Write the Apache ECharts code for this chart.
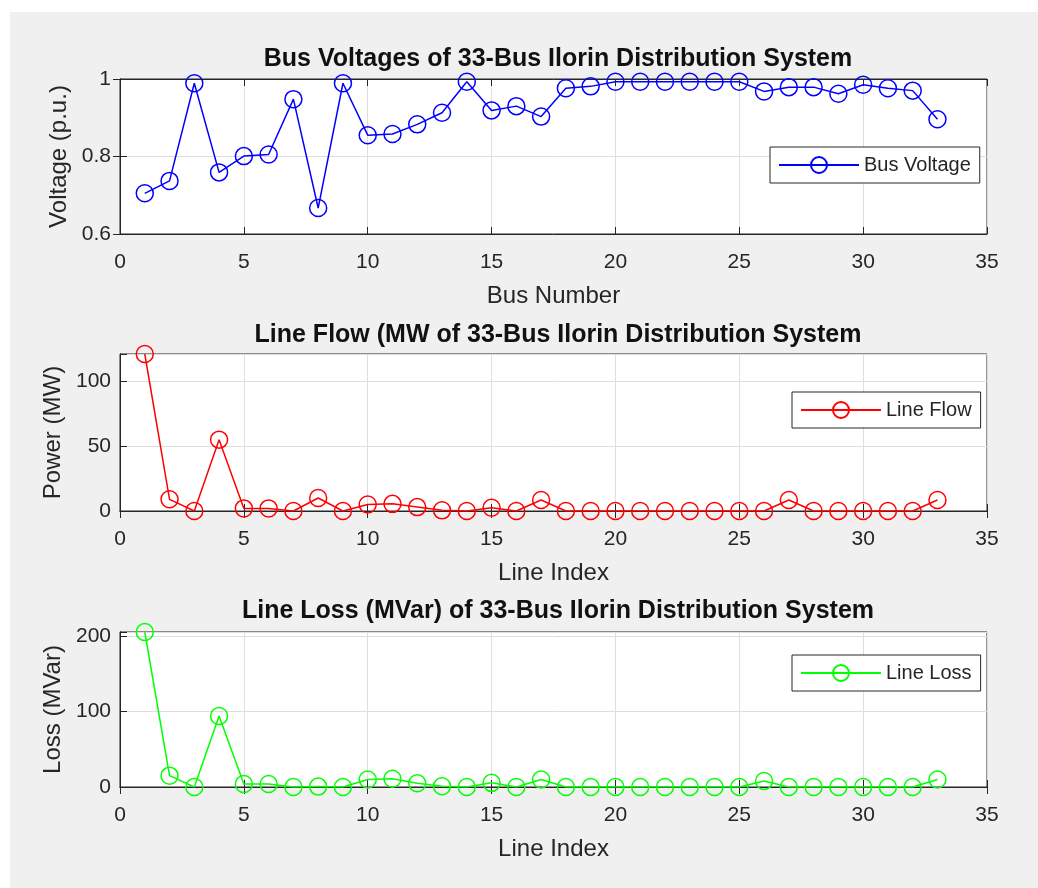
<!DOCTYPE html>
<html>
<head>
<meta charset="utf-8">
<script src="https://cdn.jsdelivr.net/npm/echarts@6/dist/echarts.min.js"></script>
<style>
  html, body { margin: 0; padding: 0; background: #ffffff; }
  #bg { position: absolute; left: 10px; top: 12px; width: 1028px; height: 876px; background: #f0f0f0; }
  #chart { position: absolute; left: 0; top: 0; width: 1038px; height: 888px; }
</style>
</head>
<body>
<div id="bg"></div>
<div id="chart"></div>
<script>
// ---- data ----
const busNumbers = [1,2,3,4,5,6,7,8,9,10,11,12,13,14,15,16,17,18,19,20,21,22,23,24,25,26,27,28,29,30,31,32,33];
const lineIndex = [1,2,3,4,5,6,7,8,9,10,11,12,13,14,15,16,17,18,19,20,21,22,23,24,25,26,27,28,29,30,31,32,33];
const busVoltage = [0.705,0.737,0.989,0.759,0.801,0.805,0.948,0.667,0.989,0.855,0.858,0.883,0.913,0.993,0.919,0.930,0.903,0.976,0.981,0.993,0.993,0.993,0.993,0.993,0.993,0.968,0.979,0.979,0.962,0.985,0.976,0.970,0.896];
const lineFlow = [121,9,0,55,2,2,0,10,0,5,5.5,3,0.5,0,2.5,0,8.5,0,0,0,0,0,0,0,0,0,8.5,0,0,0,0,0,8.5];
const lineLoss = [205,15,0,94,4,4,0,0.5,0,10,11,5,1,0,5.5,0,10,0,0,0,0,0,0,0,0,8,0,0,0,0,0,0,10];
const xTicks = [0,5,10,15,20,25,30,35];
const voltageTicks = [0.6,0.8,1];
const flowTicks = [0,50,100];
const lossTicks = [0,100,200];

const titles = ['Bus Voltages of 33-Bus Ilorin Distribution System','Line Flow (MW of 33-Bus Ilorin Distribution System','Line Loss (MVar) of 33-Bus Ilorin Distribution System'];
const xNames = ['Bus Number','Line Index','Line Index'];
const yNames = ['Voltage (p.u.)','Power (MW)','Loss (MVar)'];
const seriesNames = ['Bus Voltage','Line Flow','Line Loss'];

// ---- layout / style ----
const FONT = "'Liberation Sans', Arial, Helvetica, sans-serif";
const AX = '#262626';
const GRIDC = '#dedede';
const grids = [
  {left:120, right:51, top:79, height:155},
  {left:120, right:51, top:354, height:157},
  {left:120, right:51, top:632, height:155}
];
const titleTops = [42, 318, 594];
const legendTops = [147, 392, 655];
const legendLefts = [770, 792, 792];
const colors = ['#0000ff','#ff0000','#00ff00'];

const pairs = (xs, ys) => xs.map((x,i) => [x, ys[i]]);
const seriesData = [pairs(busNumbers, busVoltage), pairs(lineIndex, lineFlow), pairs(lineIndex, lineLoss)];
const yTickSets = [voltageTicks, flowTicks, lossTicks];
const yMins = [voltageTicks[0], flowTicks[0], lossTicks[0]];
const yMaxs = [voltageTicks[voltageTicks.length-1], 'dataMax', 'dataMax'];
const yIntervals = [voltageTicks[1]-voltageTicks[0], flowTicks[1]-flowTicks[0], lossTicks[1]-lossTicks[0]];

const xAxes = [], yAxes = [], series = [], titleArr = [], legends = [];
for (let i = 0; i < 3; i++) {
  const ticks = yTickSets[i];
  xAxes.push({
    type:'value', gridIndex:i, min:xTicks[0], max:xTicks[xTicks.length-1], interval:xTicks[1]-xTicks[0],
    position:'bottom',
    name:xNames[i], nameLocation:'middle', nameGap:50,
    nameTextStyle:{fontFamily:FONT, fontSize:24, color:AX},
    axisLine:{show:true, lineStyle:{color:AX, width:1}},
    axisTick:{show:true, inside:true, length:7, lineStyle:{color:AX}},
    axisLabel:{show:true, margin:18, fontFamily:FONT, fontSize:21, color:AX},
    splitLine:{show:true, lineStyle:{color:GRIDC, width:1}}
  });
  xAxes.push({
    type:'value', gridIndex:i, min:xTicks[0], max:xTicks[xTicks.length-1], interval:xTicks[1]-xTicks[0],
    position:'top',
    axisLine:{show:true, lineStyle:{color:AX, width:1}},
    axisTick:{show:true, inside:true, length:7, lineStyle:{color:AX}},
    axisLabel:{show:false}, splitLine:{show:false}
  });
  yAxes.push({
    type:'value', gridIndex:i, min:yMins[i], max:yMaxs[i], interval:yIntervals[i],
    position:'left',
    name:yNames[i], nameLocation:'middle', nameGap:44,
    nameTextStyle:{fontFamily:FONT, fontSize:24, color:AX},
    axisLine:{show:true, lineStyle:{color:AX, width:1}},
    axisTick:{show:true, inside:true, length:7, lineStyle:{color:AX}},
    axisLabel:{show:true, margin:9, fontFamily:FONT, fontSize:21, color:AX,
      formatter: v => ticks.some(t => Math.abs(t - v) < 1e-9) ? String(+v.toFixed(4)) : ''},
    splitLine:{show:true, lineStyle:{color:GRIDC, width:1}}
  });
  yAxes.push({
    type:'value', gridIndex:i, min:yMins[i], max:yMaxs[i], interval:yIntervals[i],
    position:'right',
    axisLine:{show:true, lineStyle:{color:AX, width:1}},
    axisTick:{show:true, inside:true, length:7, lineStyle:{color:AX}},
    axisLabel:{show:false}, splitLine:{show:false}
  });
  series.push({
    name:seriesNames[i], type:'line', xAxisIndex:2*i, yAxisIndex:2*i,
    data:seriesData[i], symbol:'circle', symbolSize:17,
    lineStyle:{color:colors[i], width:1.5},
    itemStyle:{color:'rgba(0,0,0,0)', borderColor:colors[i], borderWidth:1.5},
    emphasis:{disabled:true}, silent:true, animation:false
  });
  titleArr.push({
    text:titles[i], left:553, top:titleTops[i], textAlign:'center',
    textStyle:{fontFamily:FONT, fontSize:25, fontWeight:'bold', color:'#111'}
  });
  legends.push({
    data:[seriesNames[i]], left:legendLefts[i], top:legendTops[i], orient:'horizontal',
    padding:[8,9,8,8], itemWidth:80, itemHeight:20,
    backgroundColor:'#ffffff', borderColor:AX, borderWidth:1, borderRadius:0,
    textStyle:{fontFamily:FONT, fontSize:20, color:AX},
    selectedMode:false
  });
}

const chart = echarts.init(document.getElementById('chart'), null, {renderer:'canvas'});
chart.setOption({
  backgroundColor:'transparent',
  animation:false,
  title:titleArr,
  legend:legends,
  grid:grids.map(g => Object.assign({show:true, backgroundColor:'#ffffff', borderColor:AX, borderWidth:1}, g)),
  xAxis:xAxes,
  yAxis:yAxes,
  series:series
});
</script>
</body>
</html>
